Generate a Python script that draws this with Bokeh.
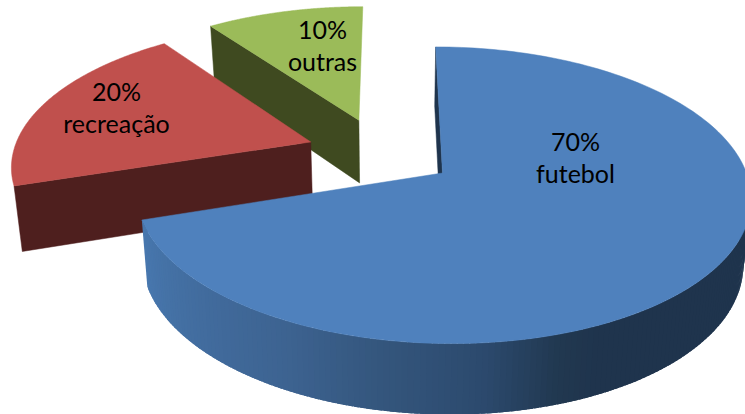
import numpy as np
from bokeh.core.properties import value
from bokeh.embed import file_html
from bokeh.models import Range1d
from bokeh.plotting import figure
from bokeh.resources import INLINE

# Share of each activity, clockwise from twelve o'clock
categories = ["futebol", "recreação", "outras"]
shares = [70, 20, 10]

# Styling per slice
top_colors = ["#4F81BD", "#C0504D", "#9BBB59"]
face_colors = ["#1F344D", "#4E1F1E", "#3F4A20"]
# Explosion of each slice on the pie's plane, in radii
explode_x = [0.171, -0.271, -0.110]
explode_y = [0.0, 0.221, 0.385]
# Label centres on the canvas: share line, name line
label_x = [575, 116, 322]
label_y = [140, 90, 28]

# Perspective camera for the tilted disc
VX, CY, A, B, K = 390.0, 172.5, 304.0, 145.0, 0.15
BOTTOM_SCALE = 0.978


def top_plane(px, py):
    w = 1 + K * py
    return VX + A * px / w, CY - B * py / w


def bottom_plane(px, py):
    x, y = top_plane(px, py)
    return VX + (x - VX) * BOTTOM_SCALE, y + 65 - 6 * py


def wall_color(theta):
    # Shading of the rim, darkening from the left of the disc to the front right
    stops_deg = [90, 155, 162, 175, 191.5, 208, 252]
    stops = np.array([[31, 52, 77], [31, 52, 77], [33, 56, 80], [44, 74, 110],
                      [52, 86, 125], [61, 99, 145], [72, 120, 175]])
    rgb = [np.interp(theta, stops_deg, stops[:, i]) for i in range(3)]
    return "#%02x%02x%02x" % tuple(int(round(c)) for c in rgb)


p = figure(
    width=745, height=414,
    x_range=Range1d(0, 745), y_range=Range1d(414, 0),
    output_backend="svg", toolbar_location=None,
    min_border=0, outline_line_color=None,
)
p.axis.visible = False
p.grid.visible = False

starts = np.cumsum([0] + shares[:-1]) * 3.6
ends = np.cumsum(shares) * 3.6

# Slices are painted back to front
for i in [2, 1, 0]:
    t0, t1 = starts[i], ends[i]
    ox, oy = explode_x[i], explode_y[i]
    theta = np.linspace(t0, t1, 181)
    px = ox + np.sin(np.radians(theta))
    py = oy + np.cos(np.radians(theta))

    # Cut face on the leading radius of the slice
    ex, ey = ox + np.sin(np.radians(t0)), oy + np.cos(np.radians(t0))
    corners = [top_plane(ox, oy), top_plane(ex, ey), bottom_plane(ex, ey), bottom_plane(ox, oy)]
    p.patch([v[0] for v in corners], [v[1] for v in corners],
            fill_color=face_colors[i], line_color=face_colors[i], line_width=0.5)

    # Outer rim of the large slice, shaded in narrow overlapping strips
    if i == 0:
        edges = np.arange(t1, 89.9, -1.0)
        for e0, e1 in zip(edges[:-1], edges[1:]):
            e_far = e1 - 0.8
            s0, c0 = np.sin(np.radians(e0)), np.cos(np.radians(e0))
            s1, c1 = np.sin(np.radians(e_far)), np.cos(np.radians(e_far))
            q = [top_plane(ox + s0, oy + c0), top_plane(ox + s1, oy + c1),
                 bottom_plane(ox + s1, oy + c1), bottom_plane(ox + s0, oy + c0)]
            p.patch([v[0] for v in q], [v[1] for v in q],
                    fill_color=wall_color((e0 + e1) / 2), line_color=None)

    # Upper surface
    sx, sy = top_plane(px, py)
    ax, ay = top_plane(ox, oy)
    p.patch(np.r_[ax, sx], np.r_[ay, sy], fill_color=top_colors[i],
            line_color=top_colors[i], line_width=0.5)

# Labels: percentage above the category name
for i in range(len(categories)):
    p.text([label_x[i]], [label_y[i]], text=[f"{shares[i]}%"],
           text_font=value("Lato"), text_font_size="25px", text_color="#000000",
           text_align="center", text_baseline="middle")
    p.text([label_x[i]], [label_y[i] + 32], text=[categories[i]],
           text_font=value("Lato"), text_font_size="25px", text_color="#000000",
           text_align="center", text_baseline="middle")

open("out.html", "w").write(file_html(p, INLINE))
